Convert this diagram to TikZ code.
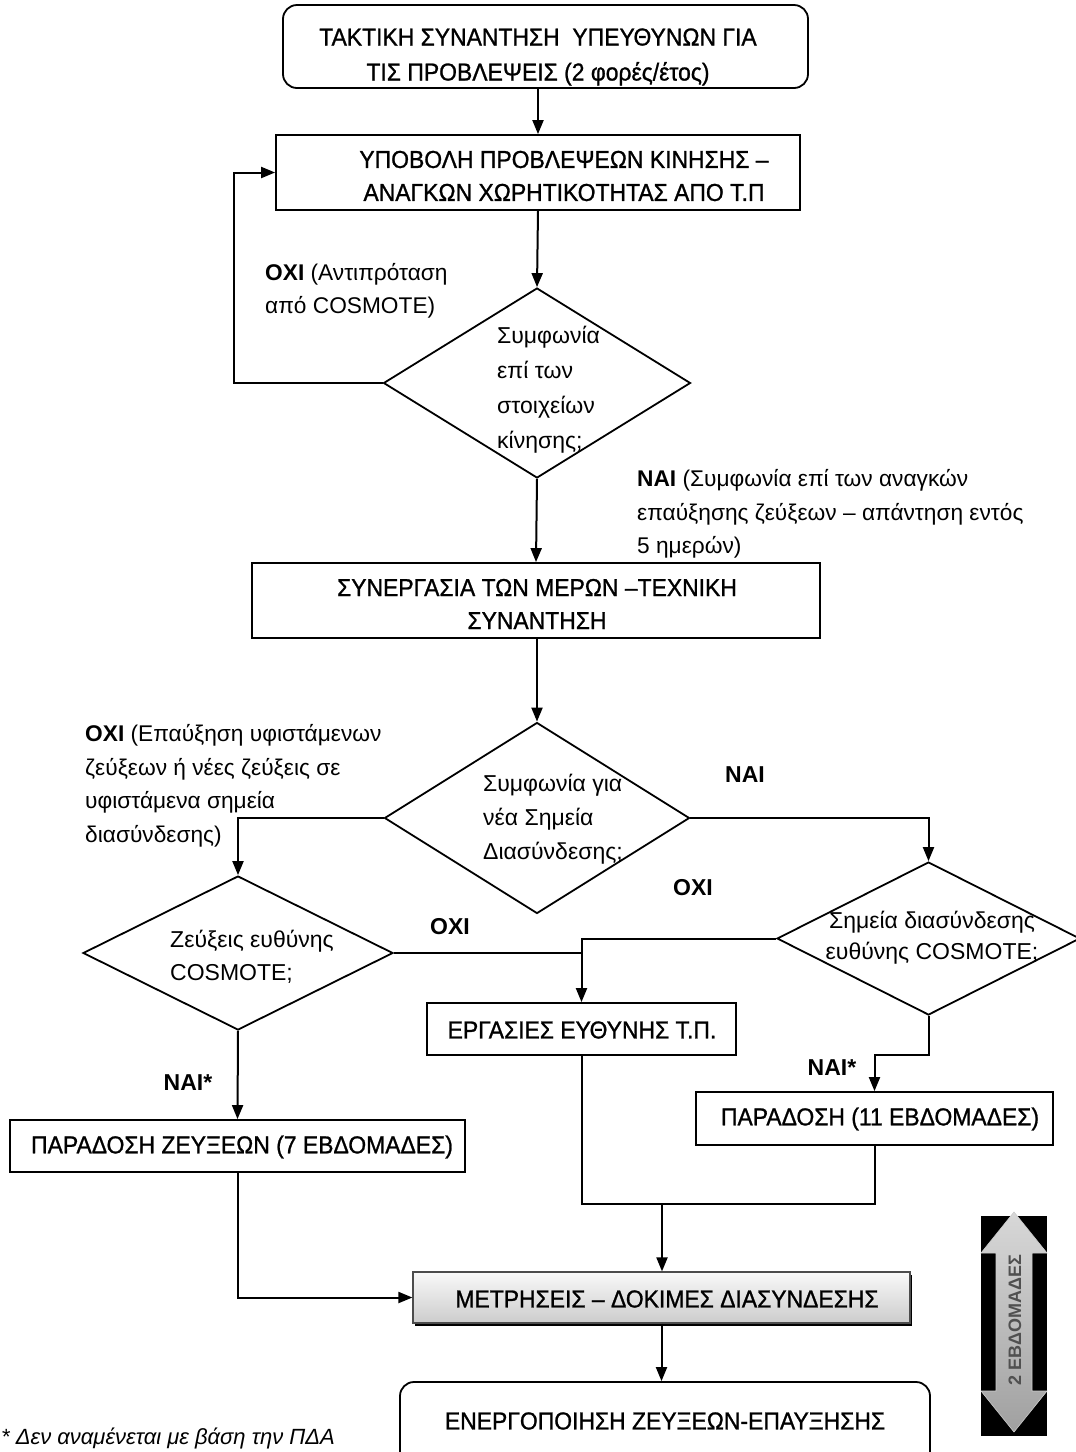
\documentclass[tikz,border=0pt]{standalone}
\usepackage{fontspec}
\setmainfont{Liberation Sans}
\newfontfamily\boxfont[FakeBold=1.0,FakeStretch=0.935]{Liberation Sans}
\usetikzlibrary{shapes.geometric,arrows.meta,shadows}
\definecolor{arrgray}{RGB}{190,190,190}
\definecolor{arrdark}{RGB}{160,160,160}
\definecolor{wktext}{RGB}{80,80,80}
\tikzset{
  box/.style={draw, line width=1.8pt, rectangle, inner sep=0pt},
  dia/.style={draw, diamond, inner sep=0pt, line width=1.8pt},
  btxt/.style={font=\boxfont\fontsize{24.5}{33}\selectfont, inner sep=0pt, align=center},
  dtxt/.style={font=\fontsize{23}{34}\selectfont, inner sep=0pt, align=left},
  lbl/.style={font=\fontsize{22.7}{33.5}\selectfont, inner sep=0pt, align=left},
  yn/.style={font=\bfseries\fontsize{23}{33}\selectfont, inner sep=0pt},
  conn/.style={line width=2pt},
  arr/.style={line width=2pt, -{Triangle[width=11pt,length=14pt]}}
}
\begin{document}
\begin{tikzpicture}[x=1pt,y=-1pt]
\useasboundingbox (0,0) rectangle (1076,1452);
\fill[white] (0,0) rectangle (1076,1452);

% boxes
\node[box, rounded corners=14pt, minimum width=525pt, minimum height=83pt] (b1) at (545.5,46.5) {};
\node[btxt, font=\boxfont\fontsize{24.5}{35}\selectfont] (b1t) at (538,57) {ΤΑΚΤΙΚΗ ΣΥΝΑΝΤΗΣΗ \ ΥΠΕΥΘΥΝΩΝ ΓΙΑ\\ΤΙΣ ΠΡΟΒΛΕΨΕΙΣ (2 φορές/έτος)};

\node[box, minimum width=524pt, minimum height=75pt] (b2) at (538,172.5) {};
\node[btxt] (b2t) at (564,176) {ΥΠΟΒΟΛΗ ΠΡΟΒΛΕΨΕΩΝ ΚΙΝΗΣΗΣ –\\ΑΝΑΓΚΩΝ ΧΩΡΗΤΙΚΟΤΗΤΑΣ ΑΠΟ Τ.Π};

\node[box, minimum width=568pt, minimum height=75pt] (b3) at (536,600.5) {};
\node[btxt] (b3t) at (537,604) {ΣΥΝΕΡΓΑΣΙΑ ΤΩΝ ΜΕΡΩΝ –ΤΕΧΝΙΚΗ\\ΣΥΝΑΝΤΗΣΗ};

\node[box, minimum width=309pt, minimum height=52pt] (b4) at (581.5,1029) {};
\node[btxt] (b4t) at (582,1030) {ΕΡΓΑΣΙΕΣ ΕΥΘΥΝΗΣ Τ.Π.};

\node[box, minimum width=357pt, minimum height=53pt] (b5) at (874.5,1118.5) {};
\node[btxt] (b5t) at (880,1119) {ΠΑΡΑΔΟΣΗ (11 ΕΒΔΟΜΑΔΕΣ)};

\node[box, minimum width=455pt, minimum height=52pt] (b7) at (237.5,1146) {};
\node[btxt] (b7t) at (242,1147) {ΠΑΡΑΔΟΣΗ ΖΕΥΞΕΩΝ (7 ΕΒΔΟΜΑΔΕΣ)};

\node[box, line width=1.2pt, draw=black!70, minimum width=497pt, minimum height=51pt,
      top color=gray!5, bottom color=gray!40,
      drop shadow={shadow xshift=2pt, shadow yshift=-3pt, opacity=1, fill=black}] (b6) at (661.5,1297.5) {};
\node[btxt] (b6t) at (667,1299) {ΜΕΤΡΗΣΕΙΣ – ΔΟΚΙΜΕΣ ΔΙΑΣΥΝΔΕΣΗΣ};

\node[box, rounded corners=14pt, minimum width=530pt, minimum height=90pt] (b8) at (665,1427) {};
\node[btxt] (b8t) at (665,1421) {ΕΝΕΡΓΟΠΟΙΗΣΗ ΖΕΥΞΕΩΝ-ΕΠΑΥΞΗΣΗΣ};

% diamonds
\node[dia, minimum width=307pt, minimum height=190pt] (d1) at (537,383) {};
\node[dtxt, font=\fontsize{23}{35}\selectfont, anchor=west] (d1t) at (497,390) {Συμφωνία\\επί των\\στοιχείων\\κίνησης;};

\node[dia, minimum width=305pt, minimum height=191pt] (d2) at (537,818) {};
\node[dtxt, anchor=west] (d2t) at (483,819) {Συμφωνία για\\νέα Σημεία\\Διασύνδεσης;};

\node[dia, minimum width=310pt, minimum height=154pt] (d3) at (238,953) {};
\node[dtxt, font=\fontsize{23}{33}\selectfont, anchor=west] (d3t) at (170,957) {Ζεύξεις ευθύνης\\COSMOTE;};

\node[dia, minimum width=303pt, minimum height=153pt] (d4) at (928.5,938.5) {};
\node[dtxt, font=\fontsize{23}{31}\selectfont, align=center] (d4t) at (932,938) {Σημεία διασύνδεσης\\ευθύνης COSMOTE;};

% connectors
\draw[arr] (b2.north |- b1.south) -- (b2.north);
\draw[arr] (b2.south) -- (d1.north);
\coordinate (loop) at (234,383);
\draw[arr] (d1.west) -- (loop) |- (b2.west);
\draw[arr] (d1.south) -- (b3.north);
\draw[arr] (d2.north |- b3.south) -- (d2.north);
\draw[arr] (d2.west) -| (d3.north);
\draw[arr] (d2.east) -| (d4.north);
\draw[arr] (d4.west) -| (b4.north);
\draw[conn] (d3.east) -- (d3.east -| b4.north);
\draw[arr] (d3.south) -- (b7.north);
\draw[arr] (d4.south) -- ++(0,39) -| (b5.north);
\coordinate (j2) at (662,1204);
\draw[conn] (b4.south) |- (j2);
\draw[conn] (b5.south) |- (j2);
\draw[arr] (j2) -- (j2 |- b6.north);
\draw[arr] (b7.south) |- (b6.west);
\draw[arr] (b6.south) -- (b6.south |- b8.north);

% labels
\node[lbl, anchor=west] (l1) at (265,291) {\textbf{ΟΧΙ} (Αντιπρόταση\\από COSMOTE)};
\node[lbl, anchor=west] (l2) at (637,514) {\textbf{ΝΑΙ} (Συμφωνία επί των αναγκών\\επαύξησης ζεύξεων – απάντηση εντός\\5 ημερών)};
\node[lbl, anchor=west] (l3) at (85,786) {\textbf{ΟΧΙ} (Επαύξηση υφιστάμενων\\ζεύξεων ή νέες ζεύξεις σε\\υφιστάμενα σημεία\\διασύνδεσης)};
\node[yn] (l4) at (745,775) {ΝΑΙ};
\node[yn] (l5) at (693,888) {ΟΧΙ};
\node[yn] (l6) at (450,927) {ΟΧΙ};
\node[yn] (l7) at (832,1068) {ΝΑΙ*};
\node[yn] (l8) at (188,1083) {ΝΑΙ*};

% two-week arrow
\fill[black] (981,1216) rectangle (1047,1436);
\shade[top color=arrgray!60, bottom color=arrdark, draw=gray!40, line width=0.6pt]
  (1014,1212) -- (1047,1253) -- (1032,1253) -- (1032,1391) -- (1047,1391) -- (1014,1432)
  -- (981,1391) -- (996,1391) -- (996,1253) -- (981,1253) -- cycle;
\node[font=\bfseries\fontsize{18}{20}\selectfont, text=wktext, rotate=90, inner sep=0pt] (wk) at (1015,1320) {2 ΕΒΔΟΜΑΔΕΣ};

% footnote
\node[font=\itshape\fontsize{22}{26}\selectfont, anchor=base west, inner sep=0pt] (fn) at (1,1444) {* Δεν αναμένεται με βάση την ΠΔΑ};
\end{tikzpicture}
\end{document}
